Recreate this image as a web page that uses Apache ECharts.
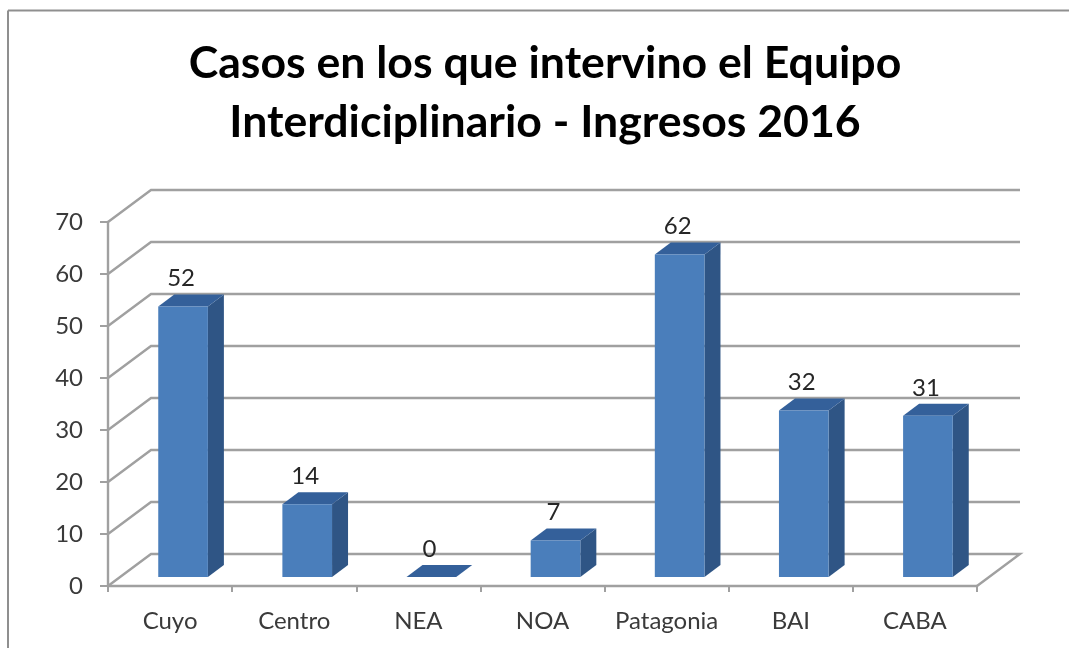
<!DOCTYPE html>
<html>
<head>
<meta charset="UTF-8">
<title>Casos en los que intervino el Equipo Interdiciplinario</title>
<style>
html,body{margin:0;padding:0;background:#fff;}
#main{width:1069px;height:648px;}
</style>
</head>
<body>
<div id="main"></div>
<script src="https://cdn.jsdelivr.net/npm/echarts@6/dist/echarts.min.js"></script>
<script>
var categories = ['Cuyo','Centro','NEA','NOA','Patagonia','BAI','CABA'];
var casos = [52,14,0,7,62,32,31];
var yTicks = [0,10,20,30,40,50,60,70];

var fontName = 'Lato';
var lineColor = '#a0a0a0';
// profundidad del "3D": fondo del grafico y corrimiento de las barras
var wallDx = 43, wallDy = 32;
var barDx = 13, barDy = 9;
var sideDx = 16, sideDy = 12;

var myChart = echarts.init(document.getElementById('main'));

function renderWall(params, api){
	var cs = params.coordSys;
	var y = api.coord([0, api.value(1)])[1];
	var pts = [[cs.x, y],[cs.x + wallDx, y - wallDy],[cs.x + cs.width + wallDx, y - wallDy]];
	// el piso cierra por la derecha
	if(api.value(1) == 0){
		pts.push([cs.x + cs.width, y]);
	}
	return {
		type:'polyline',
		shape:{points:pts},
		style:{fill:null, stroke:lineColor, lineWidth:2.4}
	};
}

function renderBar(params, api){
	var p = api.coord([api.value(0), api.value(1)]);
	var base = api.coord([api.value(0), 0]);
	var w = api.size([1,0])[0] * 0.4;
	var l = p[0] + barDx - w/2, r = l + w;
	var t = p[1] - barDy, b = base[1] - barDy;
	return {
		type:'group',
		children:[
			{type:'polygon', shape:{points:[[r,t],[r+sideDx,t-sideDy],[r+sideDx,b-sideDy],[r,b]]}, style:{fill:'#2f5585'}},
			{type:'polygon', shape:{points:[[l,t],[l+sideDx,t-sideDy],[r+sideDx,t-sideDy],[r,t]]}, style:{fill:'#34609a'}},
			{type:'rect', shape:{x:l,y:t,width:w,height:b-t}, style:{fill:'#4a7ebb'}},
			{type:'text', style:{
				x:l + w/2 - 2, y:t - 28, text:String(api.value(1)),
				font:'24px ' + fontName, fill:'#262626', align:'center', verticalAlign:'middle'
			}}
		]
	};
}

myChart.setOption({
	animation:false,
	backgroundColor:'#ffffff',
	title:{
		text:'Casos en los que intervino el Equipo\nInterdiciplinario - Ingresos 2016',
		left:540,
		top:29,
		textAlign:'center',
		textStyle:{fontFamily:fontName, fontWeight:'bold', fontSize:44.6, lineHeight:59, color:'#000'}
	},
	grid:{left:108, right:92, top:222, bottom:62},
	xAxis:{
		type:'category',
		data:categories,
		axisLine:{lineStyle:{color:lineColor, width:2.4}},
		axisTick:{show:true, length:6, lineStyle:{color:lineColor, width:2}},
		axisLabel:{fontFamily:fontName, fontSize:24, color:'#3a3a3a', margin:23, interval:0}
	},
	yAxis:{
		type:'value',
		min:yTicks[0],
		max:yTicks[yTicks.length-1],
		interval:10,
		axisLine:{show:true, lineStyle:{color:lineColor, width:2.4}},
		axisTick:{show:true, length:8, lineStyle:{color:lineColor, width:2}},
		axisLabel:{fontFamily:fontName, fontSize:24, color:'#3a3a3a', margin:25},
		splitLine:{show:false}
	},
	series:[
		{
			type:'custom',
			silent:true,
			z:1,
			renderItem:renderWall,
			data:yTicks.map(function(v){ return [0,v]; })
		},
		{
			type:'custom',
			name:'Casos',
			z:3,
			renderItem:renderBar,
			data:casos.map(function(v,i){ return [i,v]; })
		}
	],
	graphic:[
		// marco de la imagen original
		{type:'line', shape:{x1:8,y1:10.5,x2:1069,y2:10.5}, style:{stroke:'#8f8f8f',lineWidth:2}},
		{type:'line', shape:{x1:8,y1:10.5,x2:8,y2:648}, style:{stroke:'#8f8f8f',lineWidth:2}}
	]
});
</script>
</body>
</html>
